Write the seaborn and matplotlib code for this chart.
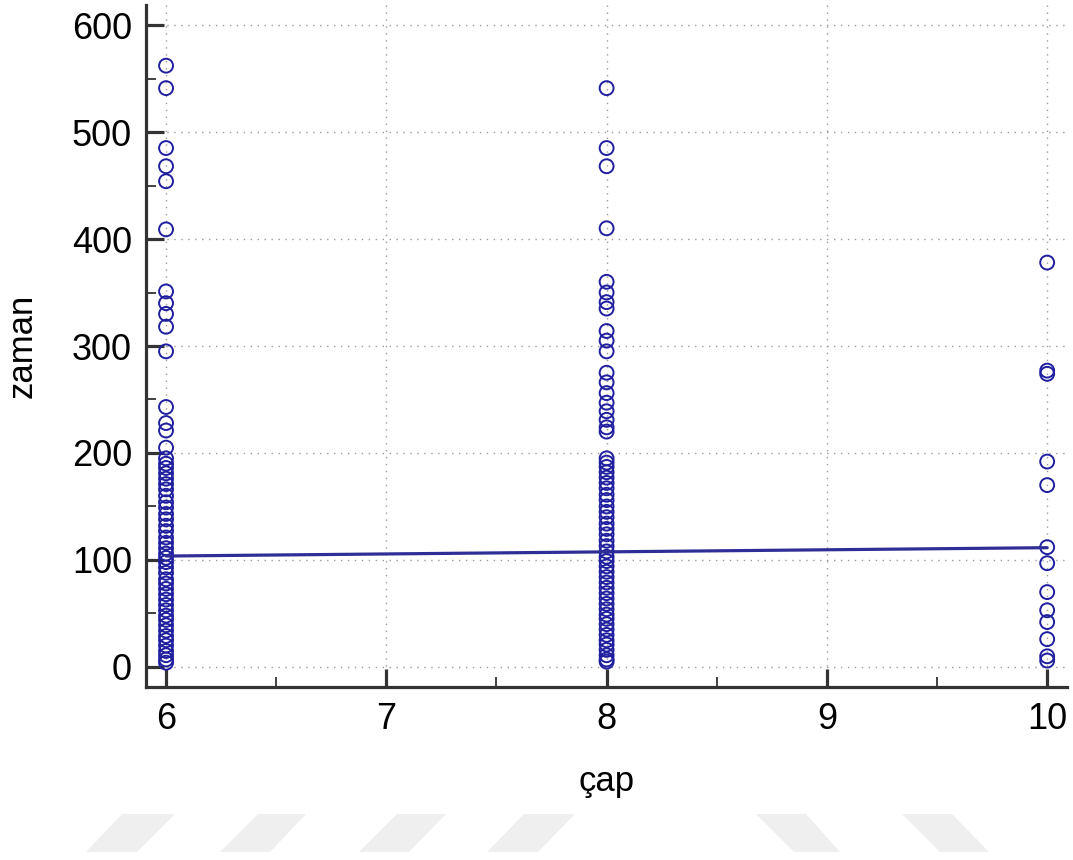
import matplotlib
matplotlib.use("Agg")
import matplotlib.pyplot as plt
from matplotlib.patches import Polygon
from matplotlib.ticker import MultipleLocator
import seaborn as sns
import pandas as pd

# değerler (çap = 6, 8, 10)
zaman_cap6 = [562, 541, 485, 468, 454, 409, 351, 340, 330, 318, 295, 243, 228, 221, 205,
              195, 190, 186, 181, 176, 171, 166, 160, 154, 149, 143, 138, 132, 127, 121,
              116, 111, 106, 102, 98, 93, 88, 82, 78, 73, 68, 63, 58, 53, 48, 44, 39,
              34, 29, 25, 20, 15, 11, 7, 4]
zaman_cap8 = [541, 485, 468, 410, 360, 350, 341, 335, 314, 305, 295, 275, 266, 256, 247,
              239, 231, 224, 220, 195, 191, 187, 182, 177, 172, 167, 161, 156, 150, 145,
              140, 134, 129, 124, 118, 113, 108, 103, 99, 94, 89, 84, 79, 74, 69, 64,
              59, 54, 49, 45, 40, 35, 30, 25, 21, 16, 11, 7, 5]
zaman_cap10 = [378, 277, 274, 192, 170, 112, 97, 70, 53, 42, 26, 10, 6]

# regresyon doğrusu uç noktaları
fit_x = [6, 10]
fit_y = [103.7, 111.5]

df = pd.DataFrame({
    "çap": [6] * len(zaman_cap6) + [8] * len(zaman_cap8) + [10] * len(zaman_cap10),
    "zaman": zaman_cap6 + zaman_cap8 + zaman_cap10,
})

sns.set_style("ticks")
plt.rcParams["font.family"] = ["Liberation Sans", "DejaVu Sans"]
plt.rcParams["text.color"] = "black"
plt.rcParams["axes.labelcolor"] = "black"
plt.rcParams["xtick.labelcolor"] = "black"
plt.rcParams["ytick.labelcolor"] = "black"

fig = plt.figure(figsize=(10.73, 8.60), dpi=100)
ax = fig.add_axes([146 / 1073, 1 - 687 / 860, (1067 - 146) / 1073, (687 - 5) / 860])

ax.grid(True, which="major", color="#9a9a9a", linestyle=(0, (1, 4)), linewidth=1.0)
ax.set_axisbelow(True)

sns.scatterplot(data=df, x="çap", y="zaman", ax=ax, marker="o", s=100,
                facecolors="none", edgecolor="#1f1fa0", linewidth=1.4, zorder=3)
sns.lineplot(x=fit_x, y=fit_y, ax=ax, color="#2e2e96", linewidth=2.3, zorder=4)

ax.set_xlim(5.909, 10.09)
ax.set_ylim(-18.7, 618.7)
ax.xaxis.set_major_locator(MultipleLocator(1))
ax.xaxis.set_minor_locator(MultipleLocator(0.5))
ax.yaxis.set_major_locator(MultipleLocator(100))
ax.yaxis.set_minor_locator(MultipleLocator(50))

for side in ["top", "right"]:
    ax.spines[side].set_visible(False)
for side in ["left", "bottom"]:
    ax.spines[side].set_linewidth(2.3)
    ax.spines[side].set_color("#333333")

ax.tick_params(which="major", direction="in", length=13, width=2.3, color="#333333",
               labelsize=26, pad=10)
ax.tick_params(which="minor", direction="in", length=7, width=1.3, color="#333333")
ax.tick_params(axis="x", which="major", pad=11)

ax.set_xlabel("çap", fontsize=25, labelpad=20)
ax.set_ylabel("zaman", fontsize=25, labelpad=24)

# alttaki soluk filigran şekilleri
wm = [
    [(122, 814), (175, 814), (137, 852), (86, 852)],
    [(258, 814), (306, 814), (270, 852), (220, 852)],
    [(397, 814), (446, 814), (409, 852), (359, 852)],
    [(524, 814), (575, 814), (538, 852), (487, 852)],
    [(756, 814), (806, 814), (840, 852), (794, 852)],
    [(902, 814), (952, 814), (989, 852), (940, 852)],
]
for pts in wm:
    poly = Polygon([(px / 1073, 1 - py / 860) for px, py in pts], closed=True,
                   transform=fig.transFigure, facecolor="#efefef", edgecolor="none")
    fig.patches.append(poly)

fig.savefig("out.png", dpi=100)
